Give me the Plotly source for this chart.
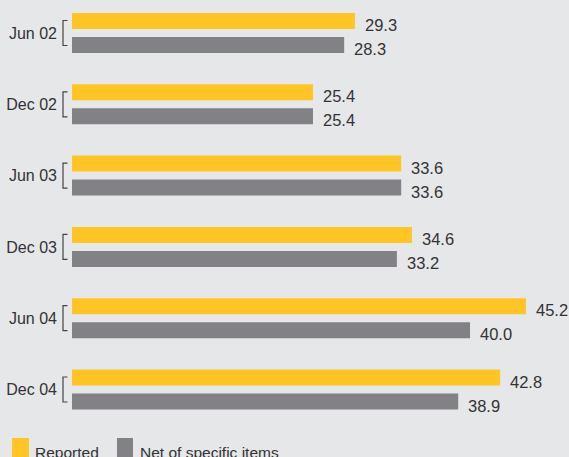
import plotly.graph_objects as go

categories = ["Jun 02", "Dec 02", "Jun 03", "Dec 03", "Jun 04", "Dec 04"]
reported = [29.3, 25.4, 33.6, 34.6, 45.2, 42.8]
net_specific = [28.3, 25.4, 33.6, 33.2, 40.0, 38.9]
series_names = ["Reported", "Net of specific items"]
colors = ["#FFC425", "#828286"]

W, H = 569, 457
ML, MR, MT, MB = 72, 0, 0, 32
PW, PH = W - ML - MR, H - MT - MB
BG = "#E6E7E9"
TXT = "#333333"
FONT = "Liberation Sans, Arial, sans-serif"
BARGAP, GROUPGAP = 0.327, 0.333


def pxx(p):
    return (p - ML) / PW


def pxy(p):
    return (H - MB - p) / PH


fig = go.Figure()
annotations = []
n = 2
for k, (name, vals, col) in enumerate(zip(series_names, [reported, net_specific], colors)):
    fig.add_trace(go.Bar(
        y=categories, x=vals, name=name, orientation="h",
        marker=dict(color=col, line=dict(width=0)),
        hoverinfo="skip",
    ))
    off = (1 - BARGAP) / n * (k - (n - 1) / 2)
    for i, v in enumerate(vals):
        annotations.append(dict(
            xref="x", yref="y", x=v, y=i + off, text=f"{v:.1f}",
            xanchor="left", yanchor="middle", xshift=8, yshift=-4,
            showarrow=False, font=dict(size=16.5, color=TXT, family=FONT)))

shapes = []
half = 12.5 / 71.3
for i, _ in enumerate(categories):
    shapes.append(dict(
        type="path", xref="paper", yref="y",
        path=f"M {pxx(67.5)},{i - half} L {pxx(63)},{i - half} L {pxx(63)},{i + half} L {pxx(67.5)},{i + half}",
        line=dict(color="#444444", width=1.2),
    ))

# legend
leg = [(12, 29, 33), (117, 133, 138)]
for (x0, x1, tx), name, col in zip(leg, series_names, colors):
    shapes.append(dict(type="rect", xref="paper", yref="paper",
                       x0=pxx(x0), x1=pxx(x1), y0=pxy(438), y1=pxy(470),
                       fillcolor=col, line=dict(width=0), layer="above"))
    annotations.append(dict(xref="paper", yref="paper", x=pxx(tx), y=pxy(452),
                            xanchor="left", yanchor="middle", text=name,
                            showarrow=False, font=dict(size=15.5, color=TXT, family=FONT)))

fig.update_layout(
    width=W, height=H, margin=dict(l=ML, r=MR, t=MT, b=MB),
    paper_bgcolor=BG, plot_bgcolor=BG,
    barmode="group", bargap=BARGAP, bargroupgap=GROUPGAP,
    showlegend=False, shapes=shapes, annotations=annotations,
    font=dict(family=FONT, color=TXT),
    xaxis=dict(range=[3, 49.2], visible=False, fixedrange=True),
    yaxis=dict(range=[(425 - 33) / 71.3, -33 / 71.3], showgrid=False, zeroline=False,
               showline=False, ticks="", ticklabelstandoff=14,
               tickfont=dict(size=16, color=TXT, family=FONT), fixedrange=True),
)

fig.write_html("out.html", config={"displayModeBar": False},
               post_script="document.body.style.margin='0';document.body.style.background='#E6E7E9';")
